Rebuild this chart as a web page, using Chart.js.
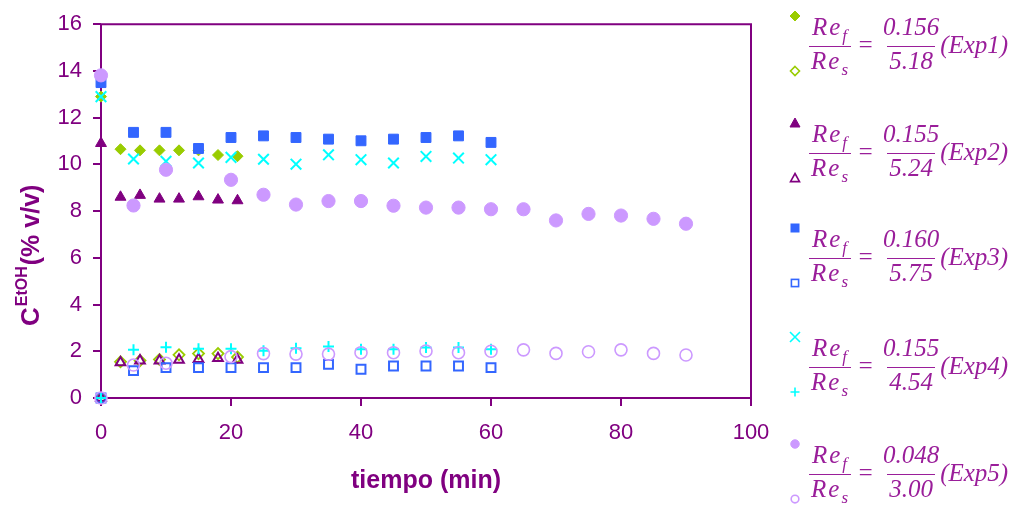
<!DOCTYPE html>
<html>
<head>
<meta charset="utf-8">
<script src="https://cdn.jsdelivr.net/npm/chart.js@4.4.1/dist/chart.umd.min.js"></script>
<style>
  html, body { margin: 0; padding: 0; background: #fff; }
  #wrap { position: relative; width: 1022px; height: 506px; overflow: hidden; }
  #chart { position: absolute; left: 0; top: 0; }
  .mk { position: absolute; width: 12px; height: 12px; }
  .entry {
    position: absolute; left: 809px; display: flex; align-items: flex-start;
    font-family: "Liberation Serif", "Times New Roman", serif; font-style: italic;
    color: #9a1e9a; font-size: 25px; white-space: nowrap;
  }
  .frac { display: inline-flex; flex-direction: column; align-items: center; }
  .frac .num { height: 33px; line-height: 28px; padding: 0 2px; }
  .frac .den { height: 28px; line-height: 28px; padding: 0 2px; border-top: 1.5px solid #9a1e9a; }
  .re { letter-spacing: 2px; padding: 0 3px 0 2px !important; }
  .re sub { font-size: 17px; vertical-align: -6px; letter-spacing: 0; }
  .eq { margin: 18px 7px 0 6px; line-height: 28px; }
  .lab { margin: 18px 0 0 -1px; line-height: 28px; }
</style>
</head>
<body>
<div id="wrap">
  <canvas id="chart" width="1022" height="506"></canvas>
</div>
<script>
// tiempos (min)
const timesA = [0, 3, 6, 9, 12, 15, 18, 21];
const timesB = [0, 5, 10, 15, 20, 25, 30, 35, 40, 45, 50, 55, 60];
const timesC = [0, 5, 10, 20, 25, 30, 35, 40, 45, 50, 55, 60, 65, 70, 75, 80, 85, 90];

// C EtOH (% v/v)
const exp1Filled = [12.9, 10.65, 10.6, 10.6, 10.6, 10.6, 10.4, 10.35];
const exp1Open = [0, 1.55, 1.6, 1.65, 1.85, 1.9, 1.9, 1.75];
const exp2Filled = [10.9, 8.6, 8.68, 8.52, 8.52, 8.62, 8.48, 8.45];
const exp2Open = [0, 1.52, 1.6, 1.6, 1.63, 1.66, 1.7, 1.63];
const exp3Filled = [13.5, 11.37, 11.37, 10.68, 11.15, 11.22, 11.15, 11.08, 11.01, 11.08, 11.15, 11.22, 10.94];
const exp3Open = [0, 1.17, 1.3, 1.3, 1.3, 1.3, 1.3, 1.44, 1.23, 1.37, 1.37, 1.37, 1.3];
const exp4Filled = [12.9, 10.23, 10.13, 10.06, 10.3, 10.22, 10.01, 10.41, 10.2, 10.06, 10.34, 10.27, 10.2];
const exp4Open = [0, 2.06, 2.17, 2.11, 2.11, 2.02, 2.13, 2.2, 2.09, 2.09, 2.16, 2.16, 2.09];
const exp5Filled = [13.81, 8.24, 9.77, 9.34, 8.7, 8.28, 8.43, 8.43, 8.23, 8.15, 8.15, 8.08, 8.08, 7.6, 7.88, 7.81, 7.67, 7.46];
const exp5Open = [0, 1.41, 1.49, 1.77, 1.9, 1.88, 1.88, 1.94, 1.94, 2.01, 1.94, 2.0, 2.06, 1.91, 1.98, 2.06, 1.91, 1.84];

// leyenda
const expLabels = ["Exp1", "Exp2", "Exp3", "Exp4", "Exp5"];
const refNum = ["0.156", "0.155", "0.160", "0.155", "0.048"];
const resDen = ["5.18", "5.24", "5.75", "4.54", "3.00"];

const xTicks = [0, 20, 40, 60, 80, 100];
const yTicks = [0, 2, 4, 6, 8, 10, 12, 14, 16];

const PURPLE = "#800080";
const COLORS = ["#99CC00", "#800080", "#3366FF", "#00FFFF", "#CC99FF"];

function pts(xs, ys) {
  return xs.map((x, i) => ({ x: x, y: ys[i] }));
}

// estilos de marcador: [relleno, abierto]
const STYLES = [
  [{ s: "rectRot", r: 5.5, w: 1 }, { s: "rectRot", r: 5.5, w: 1.8 }],
  [{ s: "triangle", r: 6.3, w: 1 }, { s: "triangle", r: 5.6, w: 2 }],
  [{ s: "rect", r: 7, w: 1 }, { s: "rect", r: 6.3, w: 2 }],
  [{ s: "crossRot", r: 7.5, w: 2 }, { s: "cross", r: 5.5, w: 2 }],
  [{ s: "circle", r: 6.6, w: 1 }, { s: "circle", r: 6, w: 1.6 }],
];

const series = [
  [timesA, exp1Filled, exp1Open],
  [timesA, exp2Filled, exp2Open],
  [timesB, exp3Filled, exp3Open],
  [timesB, exp4Filled, exp4Open],
  [timesC, exp5Filled, exp5Open],
];

const datasets = [];
series.forEach((s, i) => {
  const c = COLORS[i];
  const f = STYLES[i][0], o = STYLES[i][1];
  datasets.push({
    label: expLabels[i] + " Re_f",
    data: pts(s[0], s[1]),
    pointStyle: f.s, pointRadius: f.r, pointBorderWidth: f.w,
    pointBackgroundColor: c, pointBorderColor: c,
    showLine: false, clip: false, order: 20 - i * 2,
  });
  datasets.push({
    label: expLabels[i] + " Re_s",
    data: pts(s[0], s[2]),
    pointStyle: o.s, pointRadius: o.r, pointBorderWidth: o.w,
    pointBackgroundColor: "rgba(0,0,0,0)", pointBorderColor: c,
    showLine: false, clip: false, order: 19 - i * 2,
  });
});

// marco del área de trazado + título del eje y
const framePlugin = {
  id: "frame",
  beforeDatasetsDraw(chart) {
    const a = chart.chartArea;
    const ctx = chart.ctx;
    ctx.save();
    ctx.strokeStyle = PURPLE;
    ctx.lineWidth = 2;
    ctx.beginPath();
    ctx.moveTo(a.left, a.bottom);
    ctx.lineTo(a.left, a.top);
    ctx.lineTo(a.right, a.top);
    ctx.lineTo(a.right, a.bottom);
    ctx.lineTo(a.left, a.bottom);
    ctx.stroke();
    ctx.restore();
  },
  afterDraw(chart) {
    const ctx = chart.ctx;
    ctx.save();
    ctx.translate(39, 326);
    ctx.rotate(-Math.PI / 2);
    ctx.fillStyle = PURPLE;
    ctx.textBaseline = "alphabetic";
    ctx.textAlign = "left";
    ctx.font = "bold 26px 'Liberation Sans', Arial, sans-serif";
    ctx.fillText("C", 0, 0);
    let x = ctx.measureText("C").width + 1;
    ctx.font = "bold 16px 'Liberation Sans', Arial, sans-serif";
    ctx.fillText("EtOH", x, -12);
    x += ctx.measureText("EtOH").width + 1;
    ctx.font = "bold 25px 'Liberation Sans', Arial, sans-serif";
    ctx.fillText("(% v/v)", x, 0);
    ctx.restore();
  },
};

new Chart(document.getElementById("chart"), {
  type: "scatter",
  data: { datasets },
  options: {
    responsive: false,
    animation: false,
    layout: { padding: { top: 24, right: 271, left: 0, bottom: 0 } },
    plugins: { legend: { display: false }, tooltip: { enabled: false } },
    scales: {
      x: {
        type: "linear", min: 0, max: 100,
        afterFit: (s) => { s.height = 108; },
        afterBuildTicks: (s) => { s.ticks = xTicks.map((v) => ({ value: v })); },
        grid: { drawOnChartArea: false, color: PURPLE, lineWidth: 2, tickLength: 8 },
        border: { display: false },
        ticks: {
          color: PURPLE, padding: 14,
          font: { family: "'Liberation Sans', Arial, sans-serif", size: 22 },
        },
        title: {
          display: true, text: "tiempo (min)", color: PURPLE,
          font: { family: "'Liberation Sans', Arial, sans-serif", size: 25, weight: "bold" },
          padding: { top: 0, bottom: 10 },
        },
      },
      y: {
        type: "linear", min: 0, max: 16,
        afterFit: (s) => { s.width = 101; },
        afterBuildTicks: (s) => { s.ticks = yTicks.map((v) => ({ value: v })); },
        grid: { drawOnChartArea: false, color: PURPLE, lineWidth: 2, tickLength: 8 },
        border: { display: false },
        ticks: {
          color: PURPLE, padding: 11,
          font: { family: "'Liberation Sans', Arial, sans-serif", size: 22 },
        },
      },
    },
  },
  plugins: [framePlugin],
});

// leyenda (fracciones Re_f / Re_s)
const barY = [46, 153, 258, 367, 474];
const wrap = document.getElementById("wrap");

function markerSvg(style, color, filled, size) {
  const h = size / 2;
  let shape = "";
  const fill = filled ? color : "none";
  const sw = filled ? 1 : 1.6;
  if (style === "rectRot") {
    shape = `<polygon points="6,${6 - h} ${6 + h},6 6,${6 + h} ${6 - h},6" fill="${fill}" stroke="${color}" stroke-width="${sw}"/>`;
  } else if (style === "triangle") {
    shape = `<polygon points="6,${6 - h} ${6 + h},${6 + h * 0.8} ${6 - h},${6 + h * 0.8}" fill="${fill}" stroke="${color}" stroke-width="${sw}"/>`;
  } else if (style === "rect") {
    shape = `<rect x="${6 - h * 0.8}" y="${6 - h * 0.8}" width="${h * 1.6}" height="${h * 1.6}" fill="${fill}" stroke="${color}" stroke-width="${sw}"/>`;
  } else if (style === "circle") {
    shape = `<circle cx="6" cy="6" r="${h * 0.85}" fill="${fill}" stroke="${color}" stroke-width="${sw}"/>`;
  } else if (style === "crossRot") {
    shape = `<path d="M${6 - h},${6 - h}L${6 + h},${6 + h}M${6 + h},${6 - h}L${6 - h},${6 + h}" stroke="${color}" stroke-width="1.6"/>`;
  } else if (style === "cross") {
    shape = `<path d="M6,${6 - h}V${6 + h}M${6 - h},6H${6 + h}" stroke="${color}" stroke-width="1.6"/>`;
  }
  return `<svg width="12" height="12" viewBox="0 0 12 12">${shape}</svg>`;
}

expLabels.forEach((lab, i) => {
  const y = barY[i];
  const m1 = document.createElement("div");
  m1.className = "mk";
  m1.style.left = "789px";
  m1.style.top = (y - 32 - 6) + "px";
  m1.innerHTML = markerSvg(STYLES[i][0].s, COLORS[i], true, 10);
  wrap.appendChild(m1);

  const m2 = document.createElement("div");
  m2.className = "mk";
  m2.style.left = "789px";
  m2.style.top = (y + 23 - 6) + "px";
  m2.innerHTML = markerSvg(STYLES[i][1].s, COLORS[i], false, 9);
  wrap.appendChild(m2);

  const e = document.createElement("div");
  e.className = "entry";
  e.style.top = (y - 33) + "px";
  e.innerHTML =
    `<span class="frac"><span class="num re">Re<sub>f</sub></span><span class="den re">Re<sub>s</sub></span></span>` +
    `<span class="eq">=</span>` +
    `<span class="frac"><span class="num">${refNum[i]}</span><span class="den">${resDen[i]}</span></span>` +
    `<span class="lab">(${lab})</span>`;
  wrap.appendChild(e);
});
</script>
</body>
</html>
